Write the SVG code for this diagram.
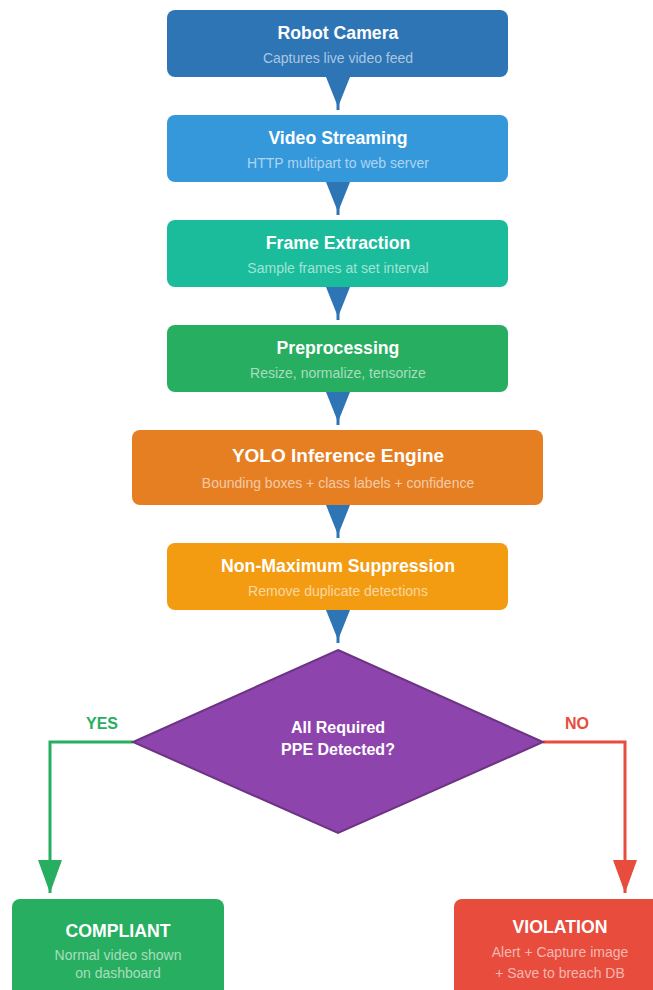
<svg xmlns="http://www.w3.org/2000/svg" width="653" height="990" viewBox="0 0 653 990">
<style>
.t{font-family:"Liberation Sans",Arial,sans-serif;font-weight:bold;fill:#fff;text-anchor:middle}
.s{font-family:"Liberation Sans",Arial,sans-serif;fill:#fff;fill-opacity:.6;text-anchor:middle;font-size:14px}
.lbl{font-family:"Liberation Sans",Arial,sans-serif;font-weight:bold;font-size:16px;text-anchor:middle}
.flow{stroke:#2e75b6;stroke-width:3;fill:none;marker-end:url(#ab)}
</style>
<defs>
<marker id="ab" markerUnits="userSpaceOnUse" viewBox="0 0 30 24" markerWidth="30" markerHeight="24" refX="33" refY="12" orient="auto" overflow="visible"><path d="M0,0 L30,12 L0,24 Z" fill="#2e75b6"/></marker>
<marker id="ag" markerUnits="userSpaceOnUse" viewBox="0 0 33 24" markerWidth="33" markerHeight="24" refX="33" refY="12" orient="auto" overflow="visible"><path d="M0,0 L33,12 L0,24 Z" fill="#27ae60"/></marker>
<marker id="ar" markerUnits="userSpaceOnUse" viewBox="0 0 33 24" markerWidth="33" markerHeight="24" refX="33" refY="12" orient="auto" overflow="visible"><path d="M0,0 L33,12 L0,24 Z" fill="#e74c3c"/></marker>
</defs>
<rect width="653" height="990" fill="#fff"/>
<g id="connectors">
<line class="flow" x1="338" y1="77" x2="338" y2="110"/>
<line class="flow" x1="338" y1="182" x2="338" y2="215"/>
<line class="flow" x1="338" y1="287" x2="338" y2="320"/>
<line class="flow" x1="338" y1="392" x2="338" y2="425"/>
<line class="flow" x1="338" y1="505" x2="338" y2="538"/>
<line class="flow" x1="338" y1="610" x2="338" y2="643"/>
<polyline points="133,742 50,742 50,893" fill="none" stroke="#27ae60" stroke-width="3" marker-end="url(#ag)"/>
<polyline points="543,742 625,742 625,893" fill="none" stroke="#e74c3c" stroke-width="3" marker-end="url(#ar)"/>
<text class="lbl" x="102" y="729" fill="#27ae60">YES</text>
<text class="lbl" x="577" y="729" fill="#e74c3c">NO</text>
</g>
<g id="robot-camera">
<rect x="167" y="10" width="341" height="67" rx="8" fill="#2e75b6"/>
<text class="t" x="338" y="39" font-size="17.7">Robot Camera</text>
<text class="s" x="338" y="63">Captures live video feed</text>
</g>
<g id="video-streaming">
<rect x="167" y="115" width="341" height="67" rx="8" fill="#3498db"/>
<text class="t" x="338" y="144" font-size="17.7">Video Streaming</text>
<text class="s" x="338" y="168">HTTP multipart to web server</text>
</g>
<g id="frame-extraction">
<rect x="167" y="220" width="341" height="67" rx="8" fill="#1abc9c"/>
<text class="t" x="338" y="249" font-size="17.7">Frame Extraction</text>
<text class="s" x="338" y="273">Sample frames at set interval</text>
</g>
<g id="preprocessing">
<rect x="167" y="325" width="341" height="67" rx="8" fill="#27ae60"/>
<text class="t" x="338" y="354" font-size="17.7">Preprocessing</text>
<text class="s" x="338" y="378">Resize, normalize, tensorize</text>
</g>
<g id="yolo">
<rect x="132" y="430" width="411" height="75" rx="8" fill="#e67e22"/>
<text class="t" x="338" y="462" font-size="19">YOLO Inference Engine</text>
<text class="s" x="338" y="488">Bounding boxes + class labels + confidence</text>
</g>
<g id="nms">
<rect x="167" y="543" width="341" height="67" rx="8" fill="#f39c12"/>
<text class="t" x="338" y="572" font-size="17.7">Non-Maximum Suppression</text>
<text class="s" x="338" y="596">Remove duplicate detections</text>
</g>
<g id="decision">
<polygon points="338,650 543,742 338,833 133,742" fill="#8e44ad" stroke="#6c3483" stroke-width="2"/>
<text class="t" x="338" y="733" font-size="16">All Required</text>
<text class="t" x="338" y="755" font-size="16">PPE Detected?</text>
</g>
<g id="compliant">
<rect x="12" y="899" width="212" height="100" rx="8" fill="#27ae60"/>
<text class="t" x="118" y="937" font-size="17.7">COMPLIANT</text>
<text class="s" x="118" y="960">Normal video shown</text>
<text class="s" x="118" y="978">on dashboard</text>
</g>
<g id="violation">
<rect x="454" y="899" width="212" height="100" rx="8" fill="#e74c3c"/>
<text class="t" x="560" y="933" font-size="17.7">VIOLATION</text>
<text class="s" x="560" y="957">Alert + Capture image</text>
<text class="s" x="560" y="978">+ Save to breach DB</text>
</g>
</svg>
